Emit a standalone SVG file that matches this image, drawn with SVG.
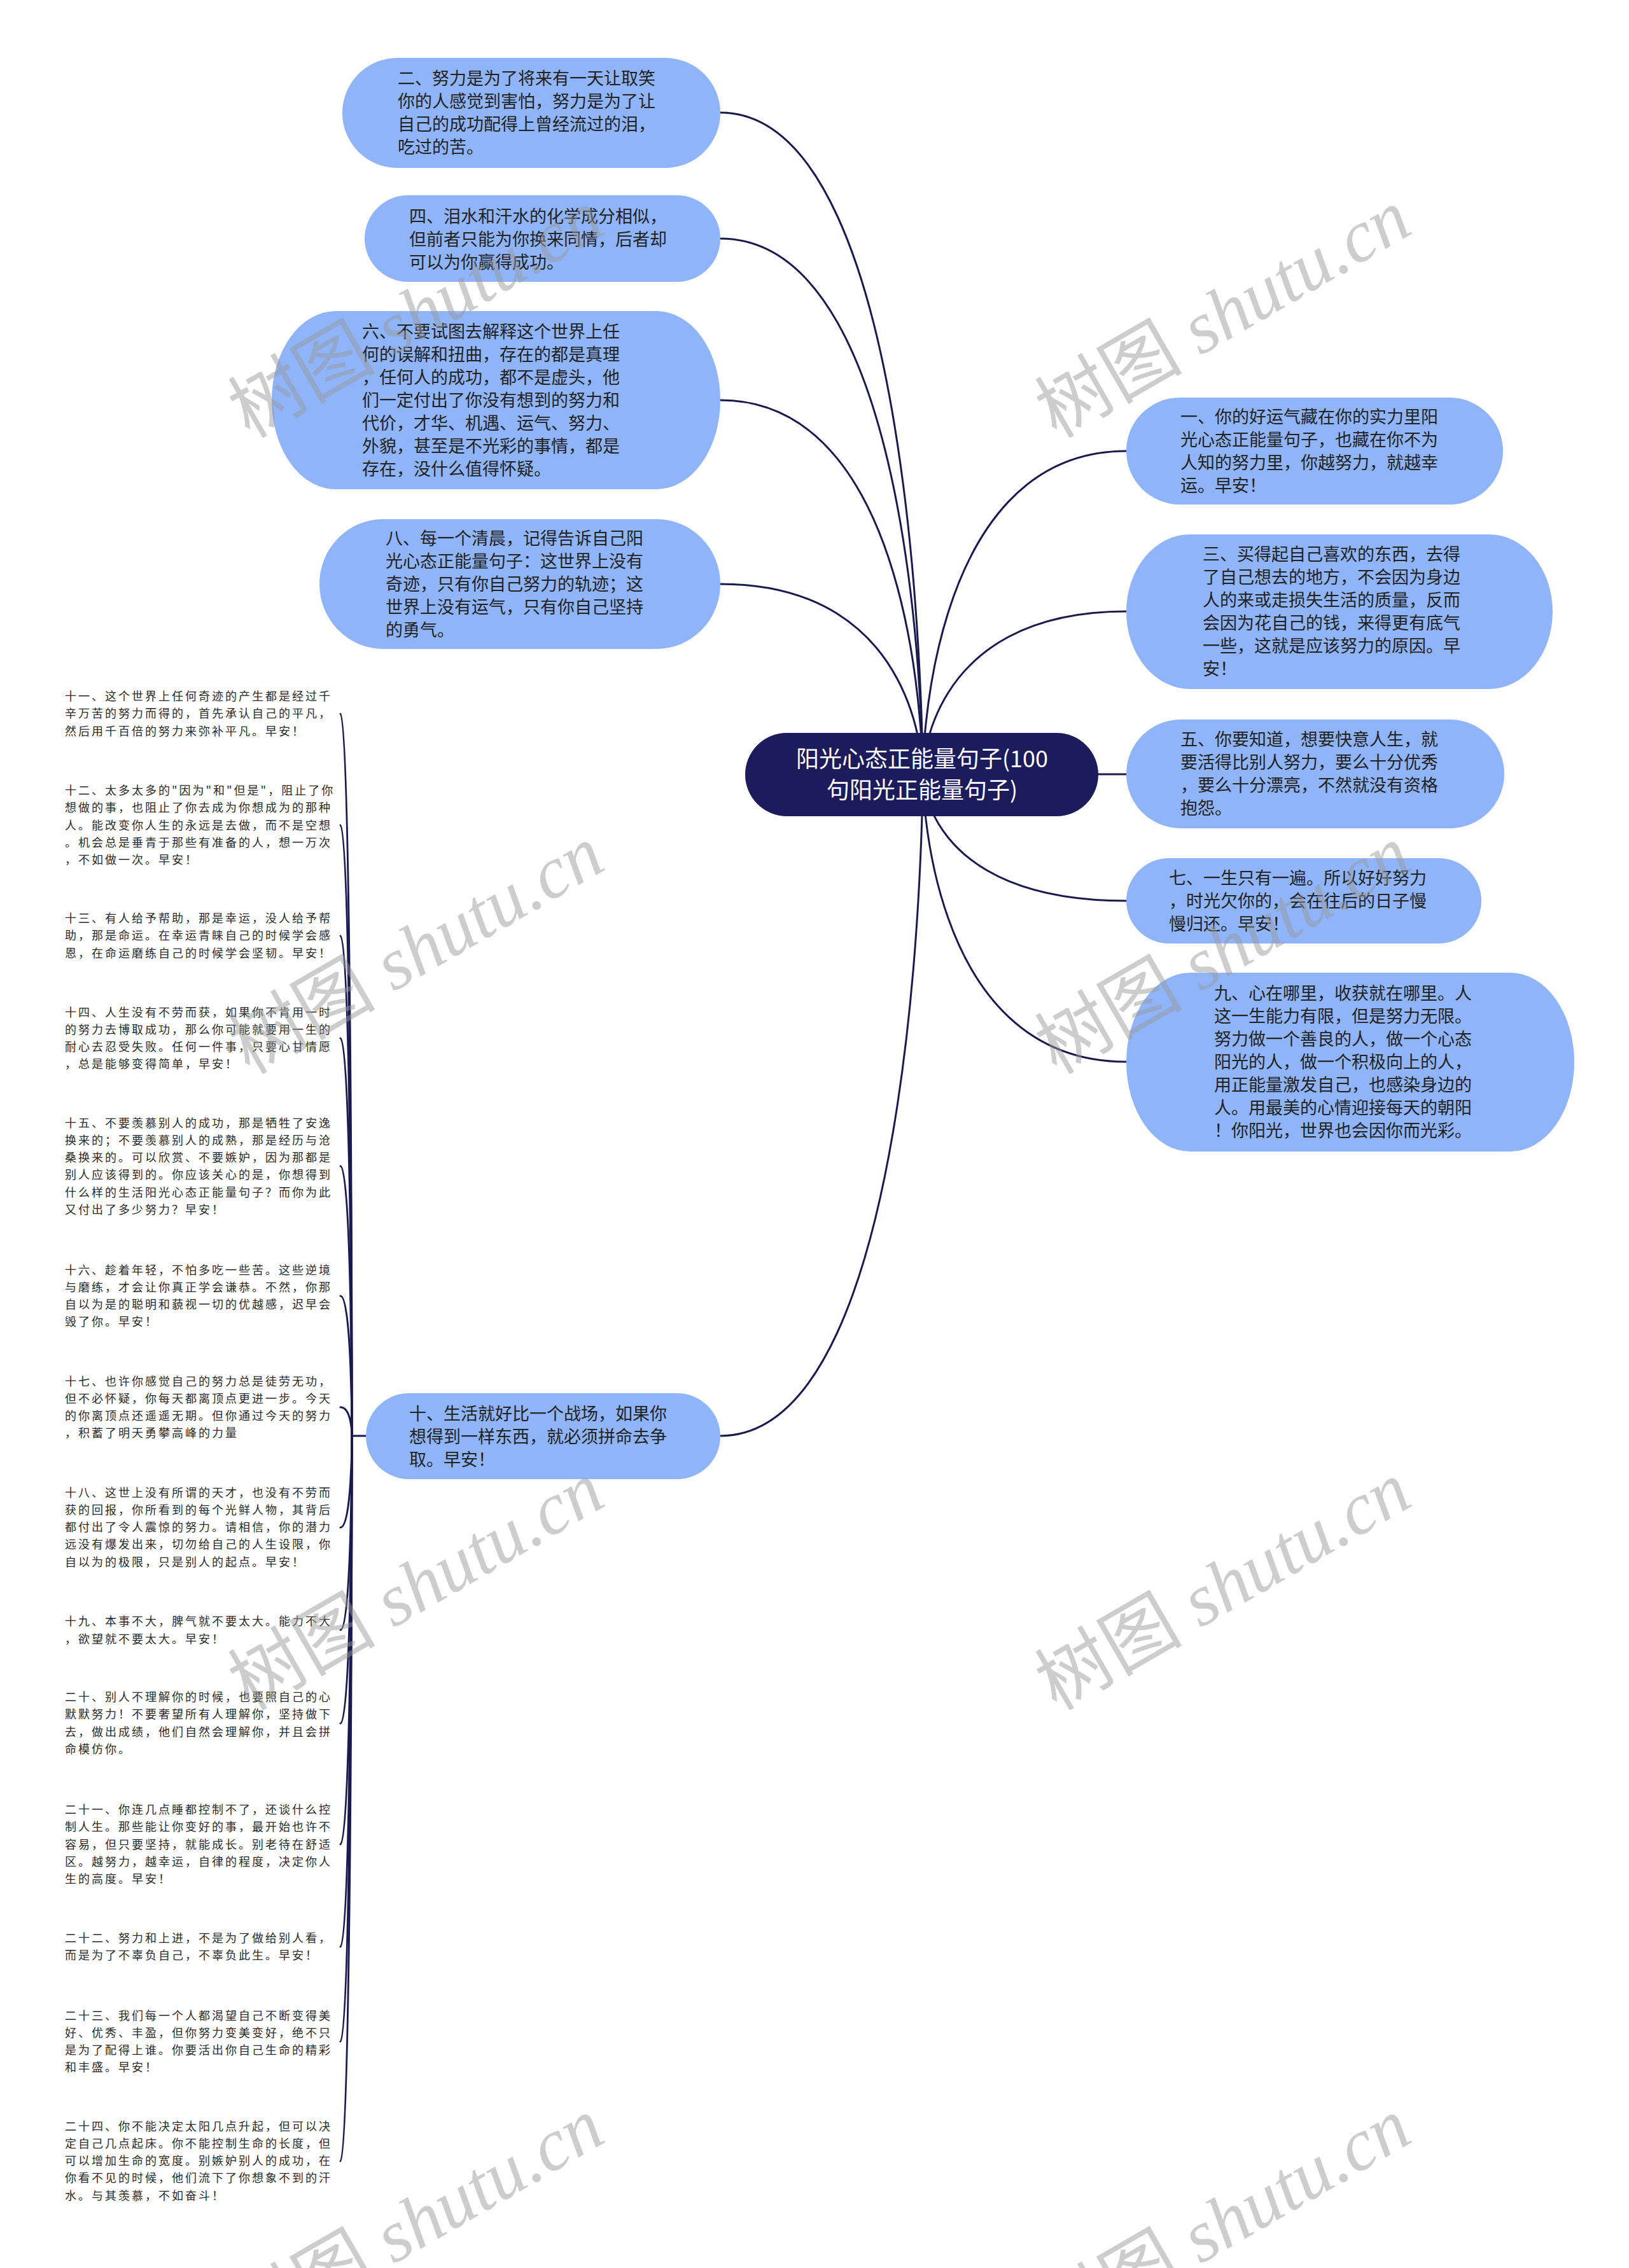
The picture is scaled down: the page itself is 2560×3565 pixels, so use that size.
<svg xmlns="http://www.w3.org/2000/svg" width="2560" height="3565" viewBox="0 0 2560 3565">
<style>
text{font-family:"Noto Sans CJK SC","Noto Sans",sans-serif;}
.leaf{fill:#8fb4f9;}
.lt{font-size:27px;fill:#222;}
.ct{font-size:18px;fill:#2a2a2a;letter-spacing:3px;}
.rt{font-size:36px;fill:#ffffff;text-anchor:middle;}
.edge{fill:none;stroke:#1b1a4f;stroke-width:3;stroke-linecap:round;}
.wm{font-size:116px;fill:#999999;opacity:0.48;}
.wmc{font-family:"Noto Sans CJK SC",sans-serif;}
.wml{font-family:"Liberation Serif",serif;font-style:italic;}
</style>
<rect x="0" y="0" width="2560" height="3565" fill="#ffffff"/>
<g id="connectors">
<path class="edge" d="M1450 1217 C1450 1217 1450 177 1132 177"/>
<path class="edge" d="M1450 1217 C1450 1217 1450 375 1132 375"/>
<path class="edge" d="M1450 1217 C1450 1217 1450 629 1132 629"/>
<path class="edge" d="M1450 1217 C1450 1217 1450 918 1132 918"/>
<path class="edge" d="M1450 1217 C1450 1217 1450 2257 1132 2257"/>
<path class="edge" d="M1450 1217 C1450 1217 1450 709 1770 709"/>
<path class="edge" d="M1450 1217 C1450 1217 1450 961 1770 961"/>
<path class="edge" d="M1450 1217 L1770 1217"/>
<path class="edge" d="M1450 1217 C1450 1217 1450 1416 1770 1416"/>
<path class="edge" d="M1450 1217 C1450 1217 1450 1669 1770 1669"/>
<path class="edge" d="M575 2257 L553 2257"/>
<path class="edge" d="M553 2257 C553 2257 553 1122 535 1122"/>
<path class="edge" d="M553 2257 C553 2257 553 1297 535 1297"/>
<path class="edge" d="M553 2257 C553 2257 553 1471 535 1471"/>
<path class="edge" d="M553 2257 C553 2257 553 1632 535 1632"/>
<path class="edge" d="M553 2257 C553 2257 553 1833 535 1833"/>
<path class="edge" d="M553 2257 C553 2257 553 2037 535 2037"/>
<path class="edge" d="M553 2257 C553 2257 553 2212 535 2212"/>
<path class="edge" d="M553 2257 C553 2257 553 2401 535 2401"/>
<path class="edge" d="M553 2257 C553 2257 553 2562 535 2562"/>
<path class="edge" d="M553 2257 C553 2257 553 2709 535 2709"/>
<path class="edge" d="M553 2257 C553 2257 553 2899 535 2899"/>
<path class="edge" d="M553 2257 C553 2257 553 3060 535 3060"/>
<path class="edge" d="M553 2257 C553 2257 553 3209 535 3209"/>
<path class="edge" d="M553 2257 C553 2257 553 3397 535 3397"/>
</g>
<g id="root">
<rect x="1171" y="1152" width="555" height="131" rx="65.5" fill="#1c1b5b"/>
<text class="rt"><tspan x="1449" y="1206">阳光心态正能量句子(100</tspan><tspan x="1449" y="1255">句阳光正能量句子)</tspan></text>
</g>
<g id="n2">
<rect class="leaf" x="538" y="91" width="594" height="173" rx="86.5"/>
<text class="lt"><tspan x="625" y="133">二、努力是为了将来有一天让取笑</tspan><tspan x="625" y="169">你的人感觉到害怕，努力是为了让</tspan><tspan x="625" y="205">自己的成功配得上曾经流过的泪，</tspan><tspan x="625" y="241">吃过的苦。</tspan></text>
</g>
<g id="n4">
<rect class="leaf" x="573" y="307" width="559" height="136" rx="68"/>
<text class="lt"><tspan x="643" y="350">四、泪水和汗水的化学成分相似，</tspan><tspan x="643" y="386">但前者只能为你换来同情，后者却</tspan><tspan x="643" y="422">可以为你赢得成功。</tspan></text>
</g>
<g id="n6">
<rect class="leaf" x="427" y="489" width="705" height="280" rx="100" ry="140"/>
<text class="lt"><tspan x="569" y="531">六、不要试图去解释这个世界上任</tspan><tspan x="569" y="567">何的误解和扭曲，存在的都是真理</tspan><tspan x="569" y="603">，任何人的成功，都不是虚头，他</tspan><tspan x="569" y="639">们一定付出了你没有想到的努力和</tspan><tspan x="569" y="675">代价，才华、机遇、运气、努力、</tspan><tspan x="569" y="711">外貌，甚至是不光彩的事情，都是</tspan><tspan x="569" y="747">存在，没什么值得怀疑。</tspan></text>
</g>
<g id="n8">
<rect class="leaf" x="502" y="816" width="630" height="204" rx="100" ry="102"/>
<text class="lt"><tspan x="606" y="856">八、每一个清晨，记得告诉自己阳</tspan><tspan x="606" y="892">光心态正能量句子：这世界上没有</tspan><tspan x="606" y="928">奇迹，只有你自己努力的轨迹；这</tspan><tspan x="606" y="964">世界上没有运气，只有你自己坚持</tspan><tspan x="606" y="1000">的勇气。</tspan></text>
</g>
<g id="n10">
<rect class="leaf" x="575" y="2190" width="557" height="135" rx="67.5"/>
<text class="lt"><tspan x="643" y="2232">十、生活就好比一个战场，如果你</tspan><tspan x="643" y="2268">想得到一样东西，就必须拼命去争</tspan><tspan x="643" y="2304">取。早安！</tspan></text>
</g>
<g id="n1">
<rect class="leaf" x="1770" y="625" width="592" height="168" rx="84"/>
<text class="lt"><tspan x="1855" y="665">一、你的好运气藏在你的实力里阳</tspan><tspan x="1855" y="701">光心态正能量句子，也藏在你不为</tspan><tspan x="1855" y="737">人知的努力里，你越努力，就越幸</tspan><tspan x="1855" y="773">运。早安！</tspan></text>
</g>
<g id="n3">
<rect class="leaf" x="1770" y="840" width="670" height="243" rx="100" ry="121.5"/>
<text class="lt"><tspan x="1890" y="881">三、买得起自己喜欢的东西，去得</tspan><tspan x="1890" y="917">了自己想去的地方，不会因为身边</tspan><tspan x="1890" y="953">人的来或走损失生活的质量，反而</tspan><tspan x="1890" y="989">会因为花自己的钱，来得更有底气</tspan><tspan x="1890" y="1025">一些，这就是应该努力的原因。早</tspan><tspan x="1890" y="1061">安！</tspan></text>
</g>
<g id="n5">
<rect class="leaf" x="1770" y="1131" width="594" height="171" rx="85.5"/>
<text class="lt"><tspan x="1855" y="1172">五、你要知道，想要快意人生，就</tspan><tspan x="1855" y="1208">要活得比别人努力，要么十分优秀</tspan><tspan x="1855" y="1244">，要么十分漂亮，不然就没有资格</tspan><tspan x="1855" y="1280">抱怨。</tspan></text>
</g>
<g id="n7">
<rect class="leaf" x="1770" y="1349" width="558" height="134" rx="67"/>
<text class="lt"><tspan x="1837" y="1390">七、一生只有一遍。所以好好努力</tspan><tspan x="1837" y="1426">，时光欠你的，会在往后的日子慢</tspan><tspan x="1837" y="1462">慢归还。早安！</tspan></text>
</g>
<g id="n9">
<rect class="leaf" x="1770" y="1529" width="704" height="281" rx="100" ry="140.5"/>
<text class="lt"><tspan x="1908" y="1571">九、心在哪里，收获就在哪里。人</tspan><tspan x="1908" y="1607">这一生能力有限，但是努力无限。</tspan><tspan x="1908" y="1643">努力做一个善良的人，做一个心态</tspan><tspan x="1908" y="1679">阳光的人，做一个积极向上的人，</tspan><tspan x="1908" y="1715">用正能量激发自己，也感染身边的</tspan><tspan x="1908" y="1751">人。用最美的心情迎接每天的朝阳</tspan><tspan x="1908" y="1787">！你阳光，世界也会因你而光彩。</tspan></text>
</g>
<g id="n11"><text class="ct"><tspan x="102" y="1101">十一、这个世界上任何奇迹的产生都是经过千</tspan><tspan x="102" y="1128">辛万苦的努力而得的，首先承认自己的平凡，</tspan><tspan x="102" y="1156">然后用千百倍的努力来弥补平凡。早安！</tspan></text></g>
<g id="n12"><text class="ct"><tspan x="102" y="1249">十二、太多太多的"因为"和"但是"，阻止了你</tspan><tspan x="102" y="1276">想做的事，也阻止了你去成为你想成为的那种</tspan><tspan x="102" y="1304">人。能改变你人生的永远是去做，而不是空想</tspan><tspan x="102" y="1331">。机会总是垂青于那些有准备的人，想一万次</tspan><tspan x="102" y="1358">，不如做一次。早安！</tspan></text></g>
<g id="n13"><text class="ct"><tspan x="102" y="1450">十三、有人给予帮助，那是幸运，没人给予帮</tspan><tspan x="102" y="1477">助，那是命运。在幸运青睐自己的时候学会感</tspan><tspan x="102" y="1505">恩，在命运磨练自己的时候学会坚韧。早安！</tspan></text></g>
<g id="n14"><text class="ct"><tspan x="102" y="1598">十四、人生没有不劳而获，如果你不肯用一时</tspan><tspan x="102" y="1625">的努力去博取成功，那么你可能就要用一生的</tspan><tspan x="102" y="1652">耐心去忍受失败。任何一件事，只要心甘情愿</tspan><tspan x="102" y="1679">，总是能够变得简单，早安！</tspan></text></g>
<g id="n15"><text class="ct"><tspan x="102" y="1772">十五、不要羡慕别人的成功，那是牺牲了安逸</tspan><tspan x="102" y="1799">换来的；不要羡慕别人的成熟，那是经历与沧</tspan><tspan x="102" y="1826">桑换来的。可以欣赏、不要嫉妒，因为那都是</tspan><tspan x="102" y="1853">别人应该得到的。你应该关心的是，你想得到</tspan><tspan x="102" y="1881">什么样的生活阳光心态正能量句子？而你为此</tspan><tspan x="102" y="1908">又付出了多少努力？早安！</tspan></text></g>
<g id="n16"><text class="ct"><tspan x="102" y="2003">十六、趁着年轻，不怕多吃一些苦。这些逆境</tspan><tspan x="102" y="2030">与磨练，才会让你真正学会谦恭。不然，你那</tspan><tspan x="102" y="2057">自以为是的聪明和藐视一切的优越感，迟早会</tspan><tspan x="102" y="2084">毁了你。早安！</tspan></text></g>
<g id="n17"><text class="ct"><tspan x="102" y="2178">十七、也许你感觉自己的努力总是徒劳无功，</tspan><tspan x="102" y="2205">但不必怀疑，你每天都离顶点更进一步。今天</tspan><tspan x="102" y="2232">的你离顶点还遥遥无期。但你通过今天的努力</tspan><tspan x="102" y="2259">，积蓄了明天勇攀高峰的力量</tspan></text></g>
<g id="n18"><text class="ct"><tspan x="102" y="2353">十八、这世上没有所谓的天才，也没有不劳而</tspan><tspan x="102" y="2380">获的回报，你所看到的每个光鲜人物，其背后</tspan><tspan x="102" y="2407">都付出了令人震惊的努力。请相信，你的潜力</tspan><tspan x="102" y="2434">远没有爆发出来，切勿给自己的人生设限，你</tspan><tspan x="102" y="2462">自以为的极限，只是别人的起点。早安！</tspan></text></g>
<g id="n19"><text class="ct"><tspan x="102" y="2555">十九、本事不大，脾气就不要太大。能力不大</tspan><tspan x="102" y="2583">，欲望就不要太大。早安！</tspan></text></g>
<g id="n20"><text class="ct"><tspan x="102" y="2674">二十、别人不理解你的时候，也要照自己的心</tspan><tspan x="102" y="2701">默默努力！不要奢望所有人理解你，坚持做下</tspan><tspan x="102" y="2729">去，做出成绩，他们自然会理解你，并且会拼</tspan><tspan x="102" y="2756">命模仿你。</tspan></text></g>
<g id="n21"><text class="ct"><tspan x="102" y="2851">二十一、你连几点睡都控制不了，还谈什么控</tspan><tspan x="102" y="2878">制人生。那些能让你变好的事，最开始也许不</tspan><tspan x="102" y="2906">容易，但只要坚持，就能成长。别老待在舒适</tspan><tspan x="102" y="2933">区。越努力，越幸运，自律的程度，决定你人</tspan><tspan x="102" y="2960">生的高度。早安！</tspan></text></g>
<g id="n22"><text class="ct"><tspan x="102" y="3053">二十二、努力和上进，不是为了做给别人看，</tspan><tspan x="102" y="3080">而是为了不辜负自己，不辜负此生。早安！</tspan></text></g>
<g id="n23"><text class="ct"><tspan x="102" y="3175">二十三、我们每一个人都渴望自己不断变得美</tspan><tspan x="102" y="3202">好、优秀、丰盈，但你努力变美变好，绝不只</tspan><tspan x="102" y="3229">是为了配得上谁。你要活出你自己生命的精彩</tspan><tspan x="102" y="3256">和丰盛。早安！</tspan></text></g>
<g id="n24"><text class="ct"><tspan x="102" y="3349">二十四、你不能决定太阳几点升起，但可以决</tspan><tspan x="102" y="3376">定自己几点起床。你不能控制生命的长度，但</tspan><tspan x="102" y="3403">可以增加生命的宽度。别嫉妒别人的成功，在</tspan><tspan x="102" y="3430">你看不见的时候，他们流下了你想象不到的汗</tspan><tspan x="102" y="3458">水。与其羡慕，不如奋斗！</tspan></text></g>
<g id="watermarks">
<text class="wm" transform="translate(392 690) rotate(-30)"><tspan class="wmc">树图</tspan><tspan class="wml"> shutu.cn</tspan></text>
<text class="wm" transform="translate(1660 690) rotate(-30)"><tspan class="wmc">树图</tspan><tspan class="wml"> shutu.cn</tspan></text>
<text class="wm" transform="translate(392 1690) rotate(-30)"><tspan class="wmc">树图</tspan><tspan class="wml"> shutu.cn</tspan></text>
<text class="wm" transform="translate(1660 1690) rotate(-30)"><tspan class="wmc">树图</tspan><tspan class="wml"> shutu.cn</tspan></text>
<text class="wm" transform="translate(392 2690) rotate(-30)"><tspan class="wmc">树图</tspan><tspan class="wml"> shutu.cn</tspan></text>
<text class="wm" transform="translate(1660 2690) rotate(-30)"><tspan class="wmc">树图</tspan><tspan class="wml"> shutu.cn</tspan></text>
<text class="wm" transform="translate(392 3690) rotate(-30)"><tspan class="wmc">树图</tspan><tspan class="wml"> shutu.cn</tspan></text>
<text class="wm" transform="translate(1660 3690) rotate(-30)"><tspan class="wmc">树图</tspan><tspan class="wml"> shutu.cn</tspan></text>
</g>
</svg>
